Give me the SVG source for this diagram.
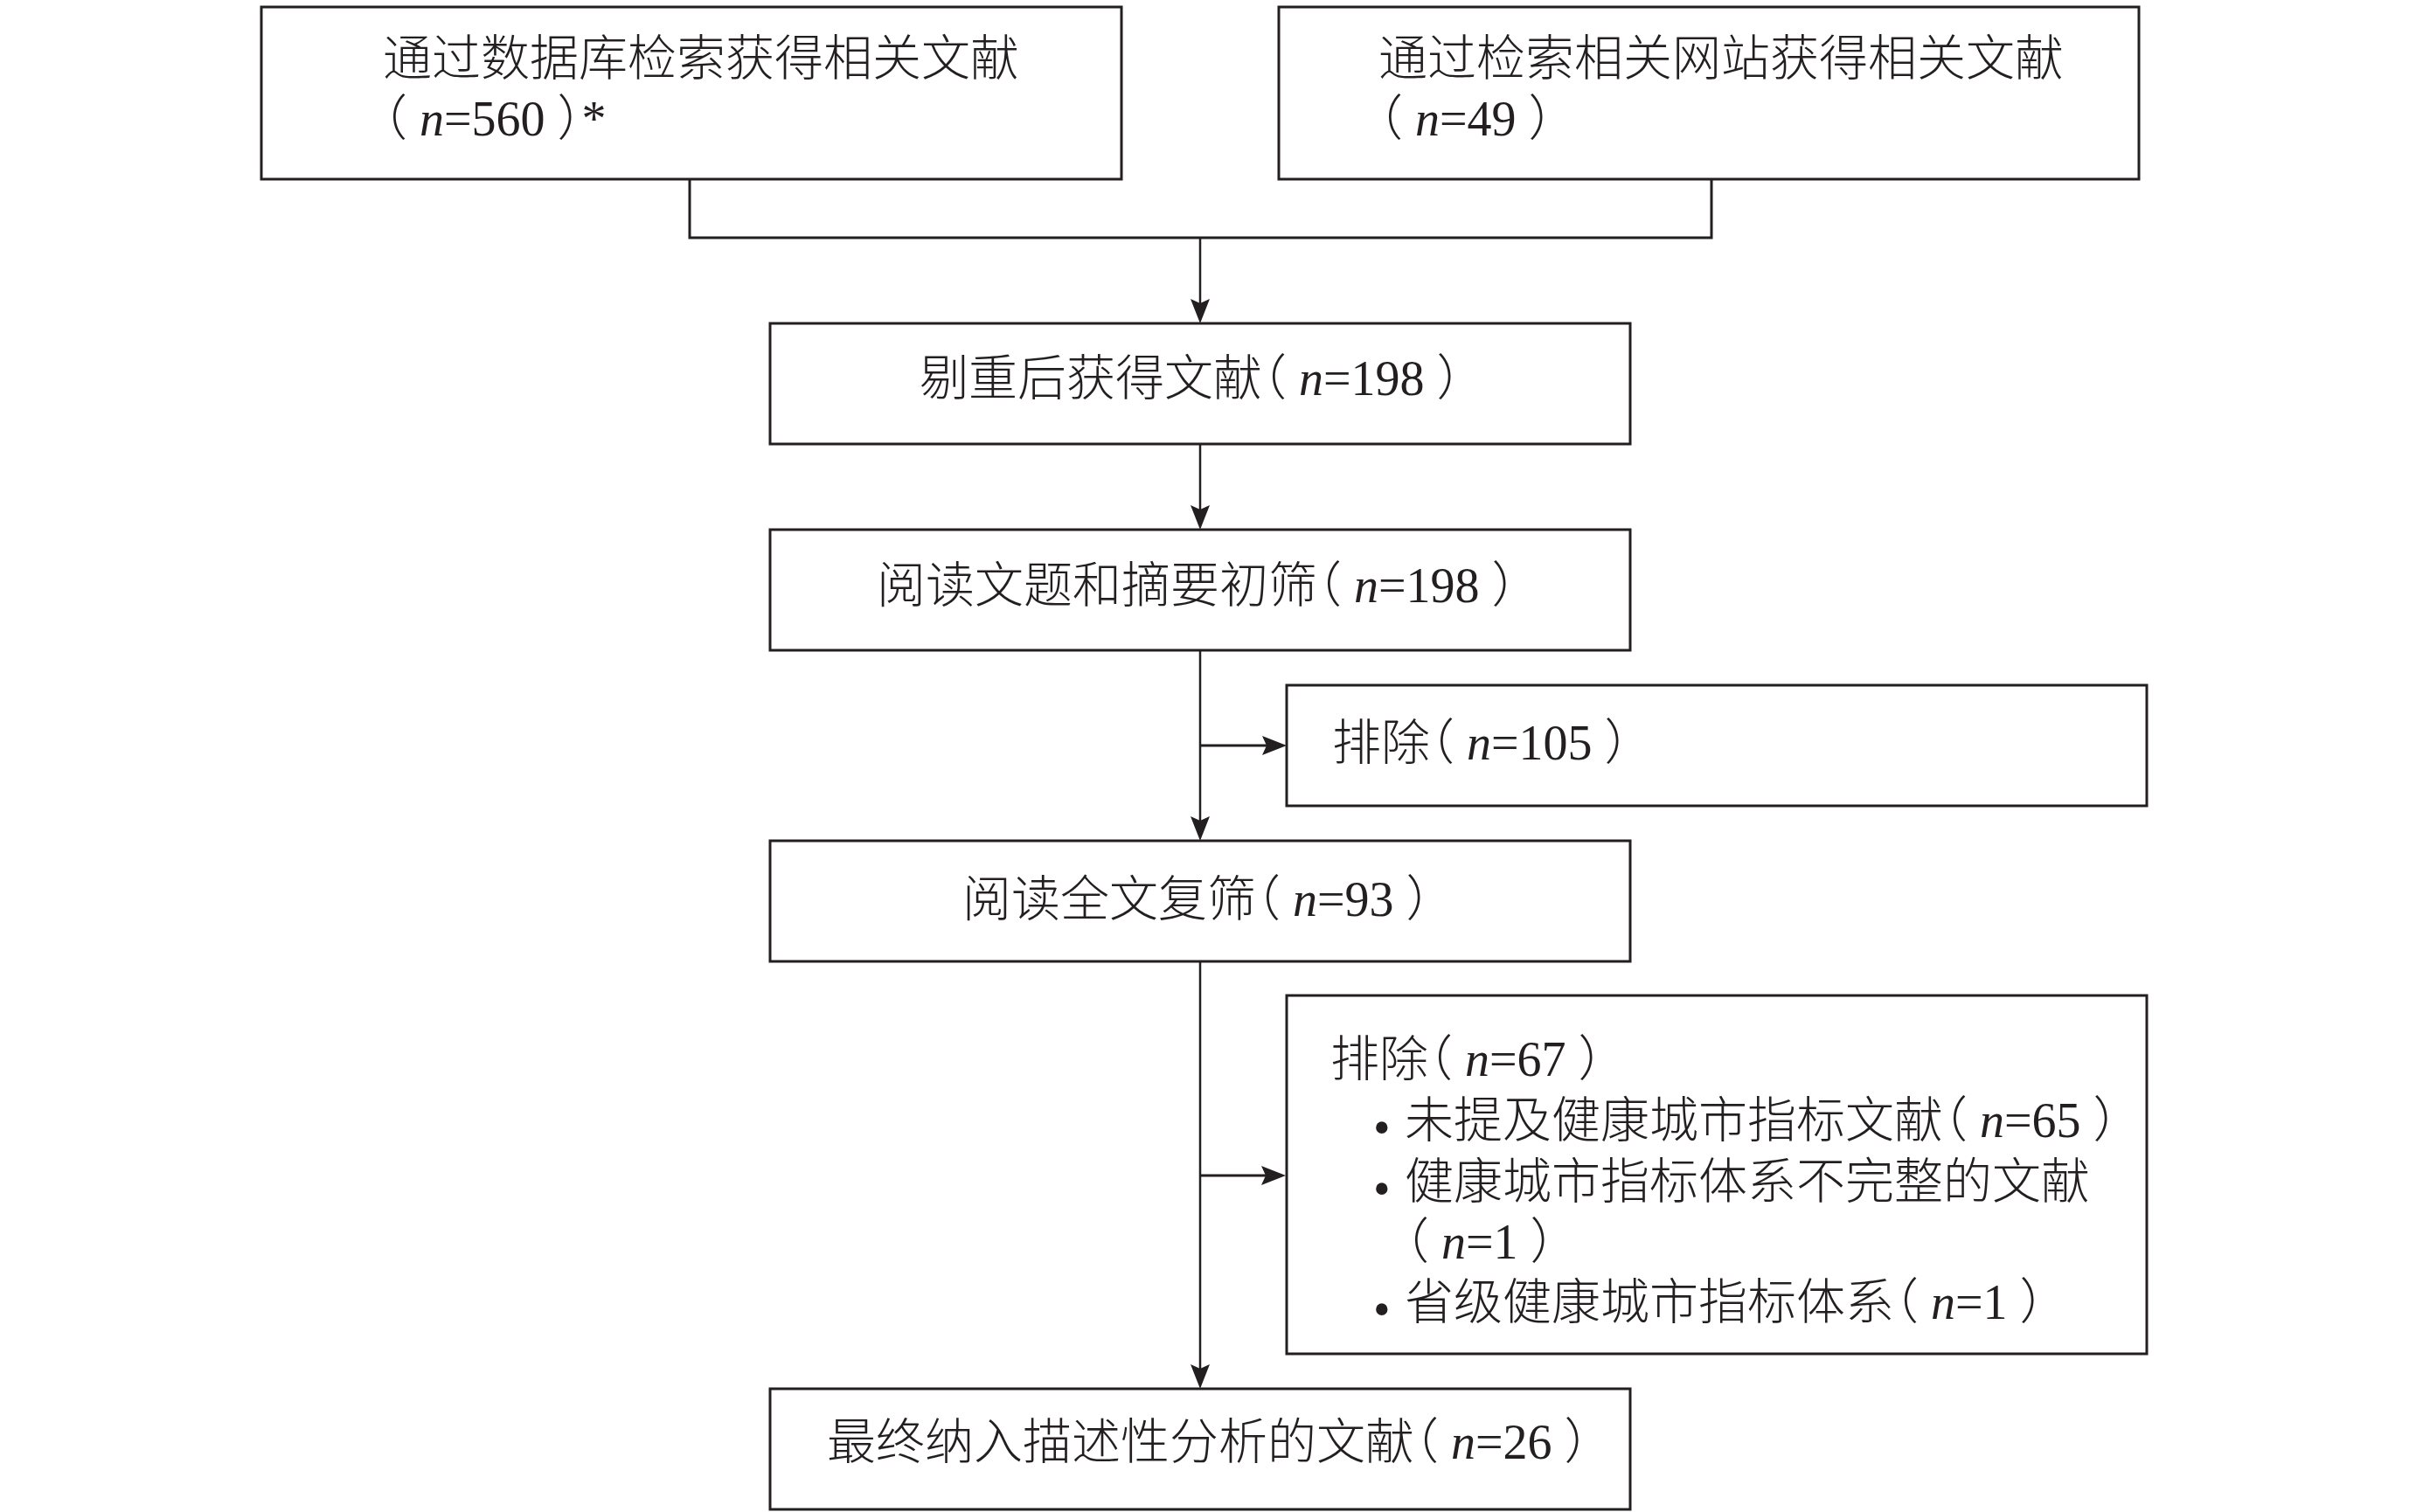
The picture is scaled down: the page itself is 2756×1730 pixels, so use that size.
<svg xmlns="http://www.w3.org/2000/svg" width="2756" height="1730" viewBox="0 0 2756 1730">
<style>
  .box { fill: #ffffff; stroke: #231f20; stroke-width: 3; }
  .t { font-family: "Liberation Serif", "Noto Sans CJK SC", serif; font-size: 56px; fill: #231f20; font-weight: 300; font-feature-settings: "halt" 1; }
  .i { font-style: italic; }
  .ln { fill: none; stroke: #231f20; stroke-width: 2.5; }
  .lh { fill: none; stroke: #231f20; stroke-width: 3; }
  .arr { marker-end: url(#ah); }
</style>
<defs>
  <marker id="ah" markerUnits="userSpaceOnUse" viewBox="-30 -12 32 24" markerWidth="32" markerHeight="24" refX="-8" refY="0" orient="auto">
    <path d="M0,0 L-28,-11 L-23,0 L-28,11 Z" fill="#231f20"/>
  </marker>
</defs>
<rect width="2756" height="1730" fill="#ffffff"/>

<g id="connectors">
  <polyline class="lh" points="789,205 789,272 1958,272 1958,205"/>
  <line class="ln arr" x1="1373" y1="272" x2="1373" y2="362"/>
  <line class="ln arr" x1="1373" y1="508" x2="1373" y2="598"/>
  <line class="ln arr" x1="1373" y1="744" x2="1373" y2="954"/>
  <line class="lh arr" x1="1373" y1="853" x2="1464" y2="853"/>
  <line class="ln arr" x1="1373" y1="1100" x2="1373" y2="1581"/>
  <line class="lh arr" x1="1373" y1="1345" x2="1463" y2="1345"/>
</g>

<g id="node-db">
  <rect class="box" x="299" y="8" width="984" height="197"/>
  <text class="t" x="438" y="86">通过数据库检索获得相关文献</text>
  <text class="t" x="438" y="155">（ <tspan class="i">n</tspan>=560 ）*</text>
</g>

<g id="node-web">
  <rect class="box" x="1463" y="8" width="984" height="197"/>
  <text class="t" x="1577" y="86">通过检索相关网站获得相关文献</text>
  <text class="t" x="1577" y="155">（ <tspan class="i">n</tspan>=49 ）</text>
</g>

<g id="node-dedup">
  <rect class="box" x="881" y="370" width="984" height="138"/>
  <text class="t" x="1052" y="452">剔重后获得文献（ <tspan class="i">n</tspan>=198 ）</text>
</g>

<g id="node-title">
  <rect class="box" x="881" y="606" width="984" height="138"/>
  <text class="t" x="1003" y="689">阅读文题和摘要初筛（ <tspan class="i">n</tspan>=198 ）</text>
</g>

<g id="node-excl1">
  <rect class="box" x="1472" y="784" width="984" height="138"/>
  <text class="t" x="1524" y="869">排除（ <tspan class="i">n</tspan>=105 ）</text>
</g>

<g id="node-full">
  <rect class="box" x="881" y="962" width="984" height="138"/>
  <text class="t" x="1101" y="1048">阅读全文复筛（ <tspan class="i">n</tspan>=93 ）</text>
</g>

<g id="node-excl2">
  <rect class="box" x="1472" y="1139" width="984" height="410"/>
  <text class="t" x="1522" y="1231">排除（ <tspan class="i">n</tspan>=67 ）</text>
  <text class="t"><tspan x="1571" y="1309">•</tspan><tspan x="1607" y="1301">未提及健康城市指标文献（ <tspan class="i">n</tspan>=65 ）</tspan></text>
  <text class="t"><tspan x="1571" y="1379">•</tspan><tspan x="1607" y="1371">健康城市指标体系不完整的文献</tspan></text>
  <text class="t" x="1607" y="1440">（ <tspan class="i">n</tspan>=1 ）</text>
  <text class="t"><tspan x="1571" y="1517">•</tspan><tspan x="1607" y="1509">省级健康城市指标体系（ <tspan class="i">n</tspan>=1 ）</tspan></text>
</g>

<g id="node-final">
  <rect class="box" x="881" y="1589" width="984" height="138"/>
  <text class="t" x="946" y="1669">最终纳入描述性分析的文献（ <tspan class="i">n</tspan>=26 ）</text>
</g>
</svg>
